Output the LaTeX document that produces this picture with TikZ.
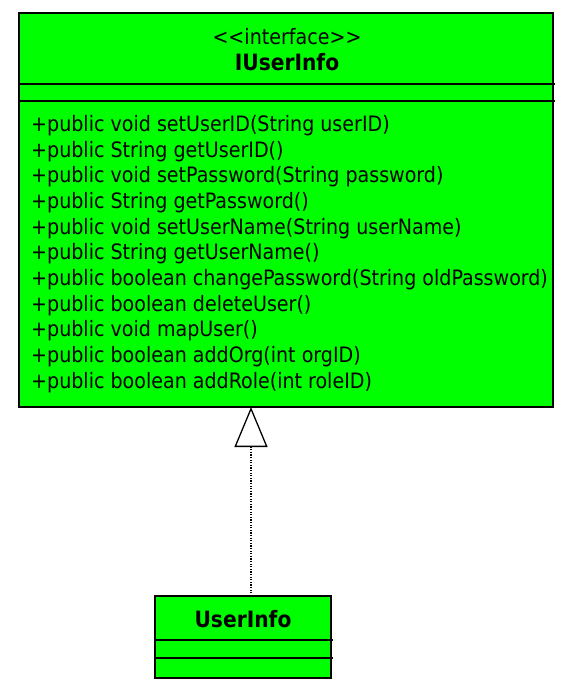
\documentclass[tikz,border=0pt]{standalone}
\usepackage{fontspec}
\setmainfont{DejaVu Sans Condensed}
\usetikzlibrary{arrows.meta}
\definecolor{umlgreen}{RGB}{0,255,0}
\tikzset{
  classbox/.style={draw=black, fill=umlgreen, line width=1.5pt},
  divider/.style={draw=black, line width=1.5pt},
  txt/.style={inner sep=0pt, font=\fontsize{21.2}{25.7}\selectfont},
  ttl/.style={inner sep=0pt, font=\fontsize{22.5}{25}\selectfont\bfseries},
  realize/.style={dash pattern=on 1.2pt off 1.4pt, line width=1.4pt, -{Triangle[open, width=33pt, length=40pt, line width=1.3pt, fill=white]}}
}
\begin{document}
\begin{tikzpicture}[x=1pt,y=1pt]
\useasboundingbox (0,0) rectangle (566,-689);
% interface box
\path[classbox] (19,-13) rectangle (553,-407);
\node[coordinate] (iu) at (251,-407) {};
\draw[divider] (19,-84) -- (555,-84);
\draw[divider] (19,-101) -- (555,-101);
\node[txt] (stereo) at (287,-37) {{<}{<}interface{>}{>}};
\node[ttl] (iname) at (287,-62) {IUserInfo};
\node[txt, anchor=north west, align=left] (methods) at (31,-115) {%
+public void setUserID(String userID)\\
+public String getUserID()\\
+public void setPassword(String password)\\
+public String getPassword()\\
+public void setUserName(String userName)\\
+public String getUserName()\\
+public boolean changePassword(String oldPassword)\\
+public boolean deleteUser()\\
+public void mapUser()\\
+public boolean addOrg(int orgID)\\
+public boolean addRole(int roleID)};
% implementing class
\path[classbox] (155,-596) rectangle (331,-678);
\node[coordinate] (ui) at (251,-596) {};
\draw[divider] (155,-640) -- (333,-640);
\draw[divider] (155,-658) -- (333,-658);
\node[ttl] (uname) at (243,-619) {UserInfo};
% realization
\draw[realize] (ui) -- (iu);
\end{tikzpicture}
\end{document}
